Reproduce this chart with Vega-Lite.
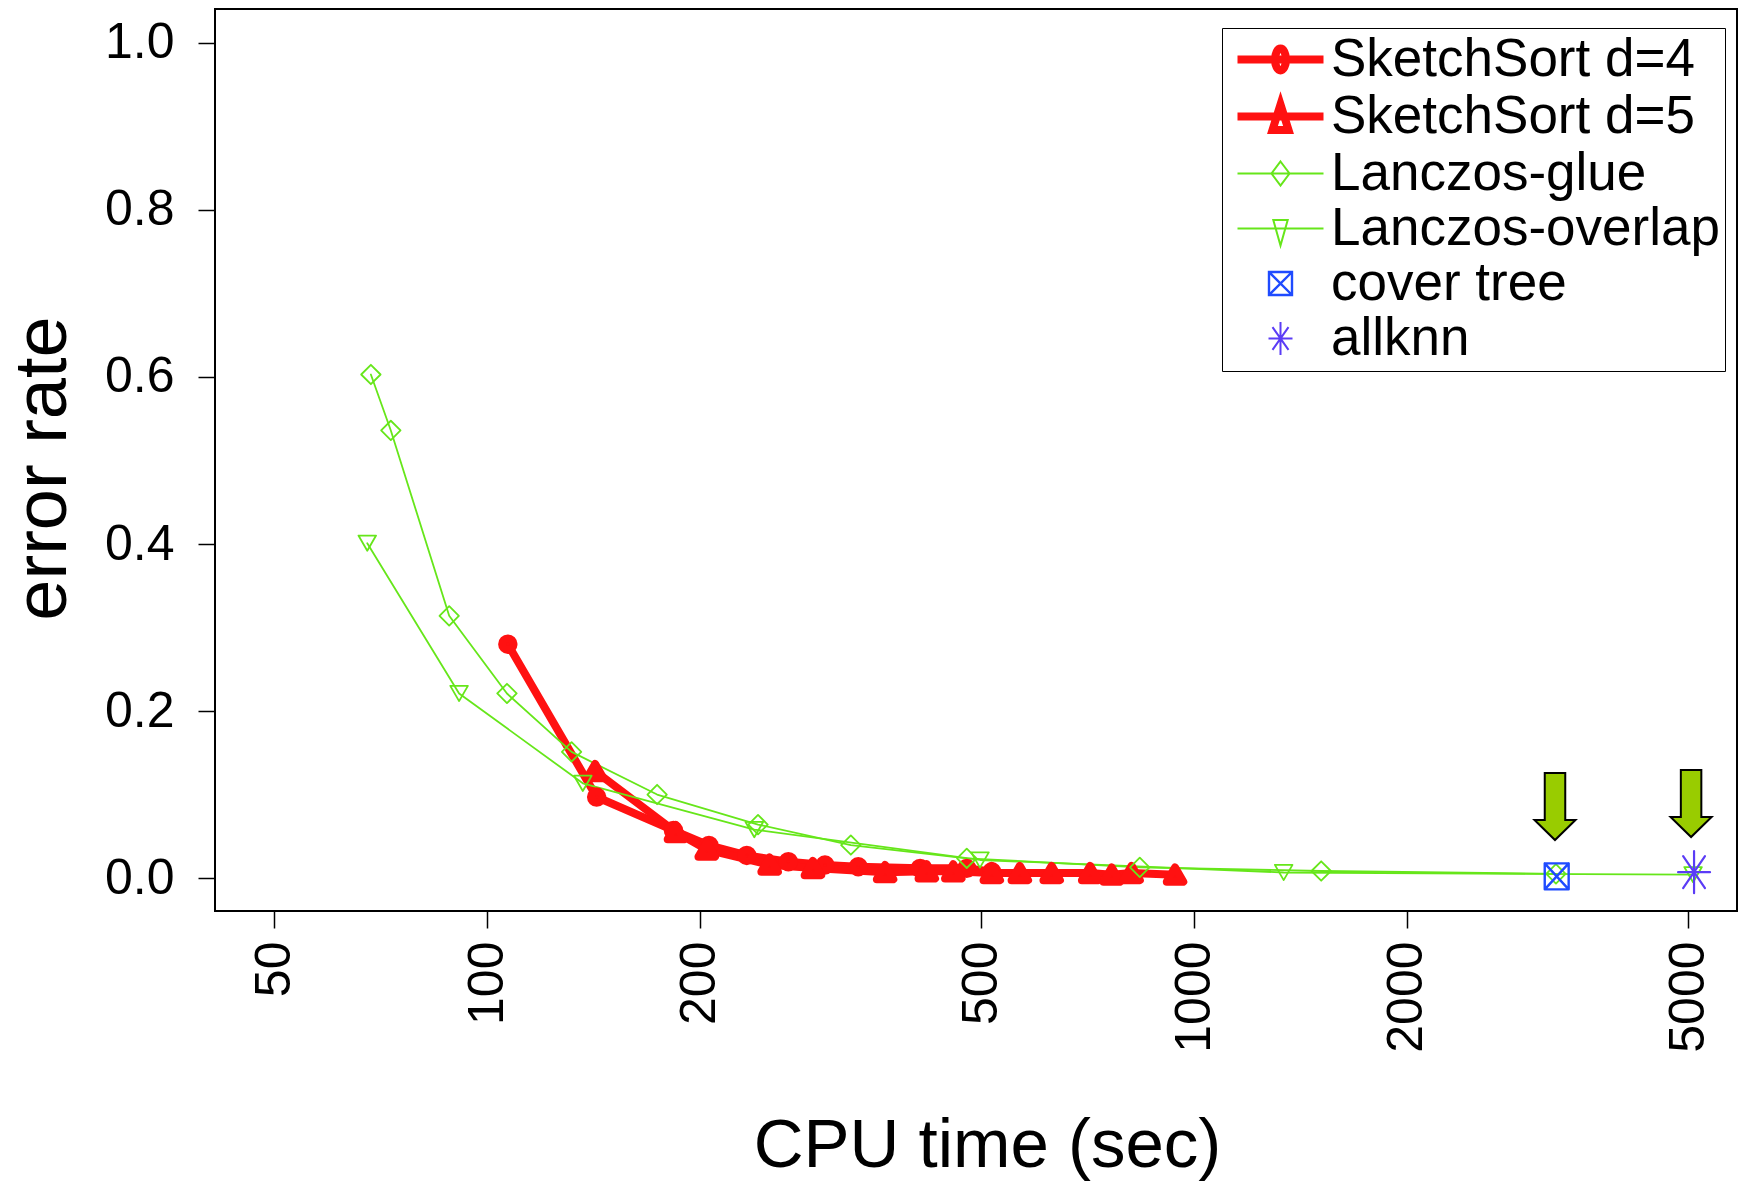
{
  "$schema": "https://vega.github.io/schema/vega-lite/v6.json",
  "width": 1522,
  "height": 902,
  "autosize": {"type": "none"},
  "padding": {"left": 215, "top": 9, "right": 10, "bottom": 271},
  "background": "white",
  "config": {
    "view": {"stroke": "black", "strokeWidth": 2},
    "font": "Liberation Sans",
    "axis": {
      "grid": false,
      "domain": false,
      "tickColor": "black",
      "tickWidth": 1.5,
      "tickSize": 17,
      "labelColor": "black",
      "titleColor": "black",
      "labelFont": "Liberation Sans",
      "titleFont": "Liberation Sans",
      "labelFontSize": 50,
      "titleFontSize": 74,
      "titleFontWeight": "normal",
      "labelOverlap": false,
      "labelFlush": false
    }
  },
  "datasets": {
    "runs": [
      {"series": "SketchSort d=4", "time": 107, "err": 0.28},
      {"series": "SketchSort d=4", "time": 142.9, "err": 0.097},
      {"series": "SketchSort d=4", "time": 183.5, "err": 0.057},
      {"series": "SketchSort d=4", "time": 206, "err": 0.039},
      {"series": "SketchSort d=4", "time": 233, "err": 0.027},
      {"series": "SketchSort d=4", "time": 266.8, "err": 0.0195},
      {"series": "SketchSort d=4", "time": 300.6, "err": 0.0156},
      {"series": "SketchSort d=4", "time": 335, "err": 0.0135},
      {"series": "SketchSort d=4", "time": 409.8, "err": 0.0116},
      {"series": "SketchSort d=4", "time": 477, "err": 0.0116},
      {"series": "SketchSort d=4", "time": 517.5, "err": 0.0075},
      {"series": "SketchSort d=5", "time": 142.2, "err": 0.128},
      {"series": "SketchSort d=5", "time": 185, "err": 0.055},
      {"series": "SketchSort d=5", "time": 204.5, "err": 0.034},
      {"series": "SketchSort d=5", "time": 251, "err": 0.016},
      {"series": "SketchSort d=5", "time": 289, "err": 0.012},
      {"series": "SketchSort d=5", "time": 365.6, "err": 0.007},
      {"series": "SketchSort d=5", "time": 418.8, "err": 0.008},
      {"series": "SketchSort d=5", "time": 456.5, "err": 0.008},
      {"series": "SketchSort d=5", "time": 517.5, "err": 0.006},
      {"series": "SketchSort d=5", "time": 567, "err": 0.006},
      {"series": "SketchSort d=5", "time": 629, "err": 0.006},
      {"series": "SketchSort d=5", "time": 713, "err": 0.006},
      {"series": "SketchSort d=5", "time": 765, "err": 0.004},
      {"series": "SketchSort d=5", "time": 816, "err": 0.006},
      {"series": "SketchSort d=5", "time": 940, "err": 0.004},
      {"series": "Lanczos-glue", "time": 68.5, "err": 0.603},
      {"series": "Lanczos-glue", "time": 73.1, "err": 0.536},
      {"series": "Lanczos-glue", "time": 88.4, "err": 0.314},
      {"series": "Lanczos-glue", "time": 106.7, "err": 0.221},
      {"series": "Lanczos-glue", "time": 131.7, "err": 0.151},
      {"series": "Lanczos-glue", "time": 174, "err": 0.1},
      {"series": "Lanczos-glue", "time": 241.7, "err": 0.064},
      {"series": "Lanczos-glue", "time": 327, "err": 0.0395},
      {"series": "Lanczos-glue", "time": 477, "err": 0.0236},
      {"series": "Lanczos-glue", "time": 838, "err": 0.0128},
      {"series": "Lanczos-glue", "time": 1513, "err": 0.0084},
      {"series": "Lanczos-glue", "time": 3250, "err": 0.005},
      {"series": "Lanczos-overlap", "time": 67.7, "err": 0.401},
      {"series": "Lanczos-overlap", "time": 91.3, "err": 0.221},
      {"series": "Lanczos-overlap", "time": 136.6, "err": 0.1134},
      {"series": "Lanczos-overlap", "time": 238.8, "err": 0.058},
      {"series": "Lanczos-overlap", "time": 498, "err": 0.0216},
      {"series": "Lanczos-overlap", "time": 1339, "err": 0.0066},
      {"series": "Lanczos-overlap", "time": 5080, "err": 0.004},
      {"series": "cover tree", "time": 3258, "err": 0.002},
      {"series": "allknn", "time": 5096, "err": 0.007}
    ],
    "arrows": [
      {"time": 3240, "err": 0.0856},
      {"time": 5047, "err": 0.0892}
    ]
  },
  "resolve": {
    "scale": {"shape": "independent", "strokeWidth": "independent", "size": "independent"},
    "legend": {"color": "independent", "shape": "independent", "size": "independent", "strokeWidth": "independent"}
  },
  "layer": [
    {
      "data": {"name": "runs"},
      "transform": [
        {"filter": {"field": "series", "oneOf": ["SketchSort d=4", "SketchSort d=5", "Lanczos-glue", "Lanczos-overlap"]}}
      ],
      "mark": {"type": "line", "strokeJoin": "round", "strokeCap": "round"},
      "encoding": {
        "x": {
          "field": "time", "type": "quantitative",
          "scale": {"type": "log", "domain": [41.23, 5861], "nice": false, "zero": false},
          "axis": {
            "values": [50, 100, 200, 500, 1000, 2000, 5000],
            "format": "d",
            "labelAngle": 270,
            "labelAlign": "right",
            "labelBaseline": "middle",
            "labelPadding": 13,
            "title": "CPU time (sec)",
            "titleFontSize": 69,
            "titleX": 772,
            "titleY": 255,
            "titleAlign": "center",
            "titleBaseline": "alphabetic"
          }
        },
        "y": {
          "field": "err", "type": "quantitative",
          "scale": {"domain": [-0.0395, 1.0407], "nice": false, "zero": false},
          "axis": {
            "values": [0, 0.2, 0.4, 0.6, 0.8, 1],
            "format": ".1f",
            "labelPadding": 24,
            "title": "error rate",
            "titleAngle": 270,
            "titleX": -150,
            "titleY": 459,
            "titleAlign": "center",
            "titleBaseline": "alphabetic"
          }
        },
        "color": {
          "field": "series", "type": "nominal",
          "scale": {
            "domain": ["SketchSort d=4", "SketchSort d=5", "Lanczos-glue", "Lanczos-overlap", "cover tree", "allknn"],
            "range": ["#ff1111", "#ff1111", "#66e61a", "#66e61a", "#1f4bff", "#5b3cf6"]
          },
          "legend": null
        },
        "strokeWidth": {
          "field": "series", "type": "nominal",
          "scale": {
            "type": "ordinal",
            "domain": ["allknn", "cover tree", "Lanczos-overlap", "Lanczos-glue", "SketchSort d=5", "SketchSort d=4"],
            "range": [2.2, 2.4, 1.8, 1.8, 8, 8]
          },
          "legend": null
        }
      }
    },
    {
      "data": {"name": "runs"},
      "mark": {"type": "point", "filled": false, "opacity": 1, "strokeJoin": "round", "strokeCap": "round"},
      "encoding": {
        "x": {"field": "time", "type": "quantitative"},
        "y": {"field": "err", "type": "quantitative"},
        "color": {"field": "series", "type": "nominal", "legend": null},
        "shape": {
          "field": "series", "type": "nominal",
          "scale": {
            "domain": ["allknn", "cover tree", "Lanczos-overlap", "Lanczos-glue", "SketchSort d=5", "SketchSort d=4"],
            "range": [
              "M0,-1L0,1M-0.76,0L0.76,0M-0.52,-0.76L0.52,0.76M-0.52,0.76L0.52,-0.76",
              "M-0.92,-1L0.92,-1L0.92,1L-0.92,1ZM-0.92,-1L0.92,1M-0.92,1L0.92,-1",
              "M-1,-0.866L1,-0.866L0,0.866Z",
              "M0,-1L1,0L0,1L-1,0Z",
              "M0,-0.866L1,0.866L-1,0.866Z",
              "circle"
            ]
          },
          "legend": null
        },
        "size": {
          "field": "series", "type": "nominal",
          "scale": {
            "type": "ordinal",
            "domain": ["allknn", "cover tree", "Lanczos-overlap", "Lanczos-glue", "SketchSort d=5", "SketchSort d=4"],
            "range": [1764, 676, 310, 376, 272, 130]
          },
          "legend": null
        },
        "strokeWidth": {
          "field": "series", "type": "nominal",
          "scale": {
            "type": "ordinal",
            "domain": ["allknn", "cover tree", "Lanczos-overlap", "Lanczos-glue", "SketchSort d=5", "SketchSort d=4"],
            "range": [2.2, 2.4, 1.8, 1.8, 8, 8]
          },
          "legend": null
        }
      }
    },
    {
      "data": {"name": "runs"},
      "transform": [{"filter": "datum.time < 0"}],
      "mark": {"type": "point", "filled": false, "opacity": 1, "strokeJoin": "round", "strokeCap": "round"},
      "encoding": {
        "x": {"field": "time", "type": "quantitative"},
        "y": {"field": "err", "type": "quantitative"},
        "color": {
          "field": "series", "type": "nominal",
          "legend": {
            "title": null,
            "orient": "none",
            "legendX": 1007,
            "legendY": 19,
            "padding": 5,
            "strokeColor": "black",
            "fillColor": "white",
            "symbolSize": 1600,
            "labelFont": "Liberation Sans",
            "labelFontSize": 53,
            "labelColor": "black",
            "labelOffset": 51,
            "labelLimit": 0,
            "rowPadding": 1,
            "encode": {"legend": {"strokeWidth": {"value": 2}}}
          }
        },
        "shape": {
          "field": "series", "type": "nominal",
          "scale": {
            "domain": ["SketchSort d=4", "SketchSort d=5", "Lanczos-glue", "Lanczos-overlap", "cover tree", "allknn"],
            "range": [
              "M-0.8,0L3.5,0M1.625,0A0.275,0.55 0 1,1 1.075,0A0.275,0.55 0 1,1 1.625,0",
              "M-0.8,0L3.5,0M1.35,-0.6L1.75,0.67L0.95,0.67Z",
              "M-0.8,0L3.5,0M1.35,-0.6L1.8,0L1.35,0.6L0.9,0Z",
              "M-0.8,0L3.5,0M0.99,-0.43L1.71,-0.43L1.35,0.85Z",
              "M0.775,-0.575L1.925,-0.575L1.925,0.575L0.775,0.575ZM0.775,-0.575L1.925,0.575M0.775,0.575L1.925,-0.575",
              "M1.35,-0.825L1.35,0.825M0.75,0L1.95,0M0.95,-0.57L1.75,0.57M0.95,0.57L1.75,-0.57"
            ]
          }
        },
        "strokeWidth": {
          "field": "series", "type": "nominal",
          "scale": {
            "type": "ordinal",
            "domain": ["SketchSort d=4", "SketchSort d=5", "Lanczos-glue", "Lanczos-overlap", "cover tree", "allknn"],
            "range": [8, 8, 2, 2, 2.4, 2]
          }
        }
      }
    },
    {
      "data": {"name": "arrows"},
      "mark": {
        "type": "point",
        "filled": true,
        "opacity": 1,
        "shape": "M-0.306,-1L0.306,-1L0.306,0.403L0.612,0.403L0,1L-0.612,0.403L-0.306,0.403Z",
        "size": 4489,
        "fill": "#99cc00",
        "stroke": "black",
        "strokeWidth": 2
      },
      "encoding": {
        "x": {"field": "time", "type": "quantitative"},
        "y": {"field": "err", "type": "quantitative"}
      }
    }
  ]
}
